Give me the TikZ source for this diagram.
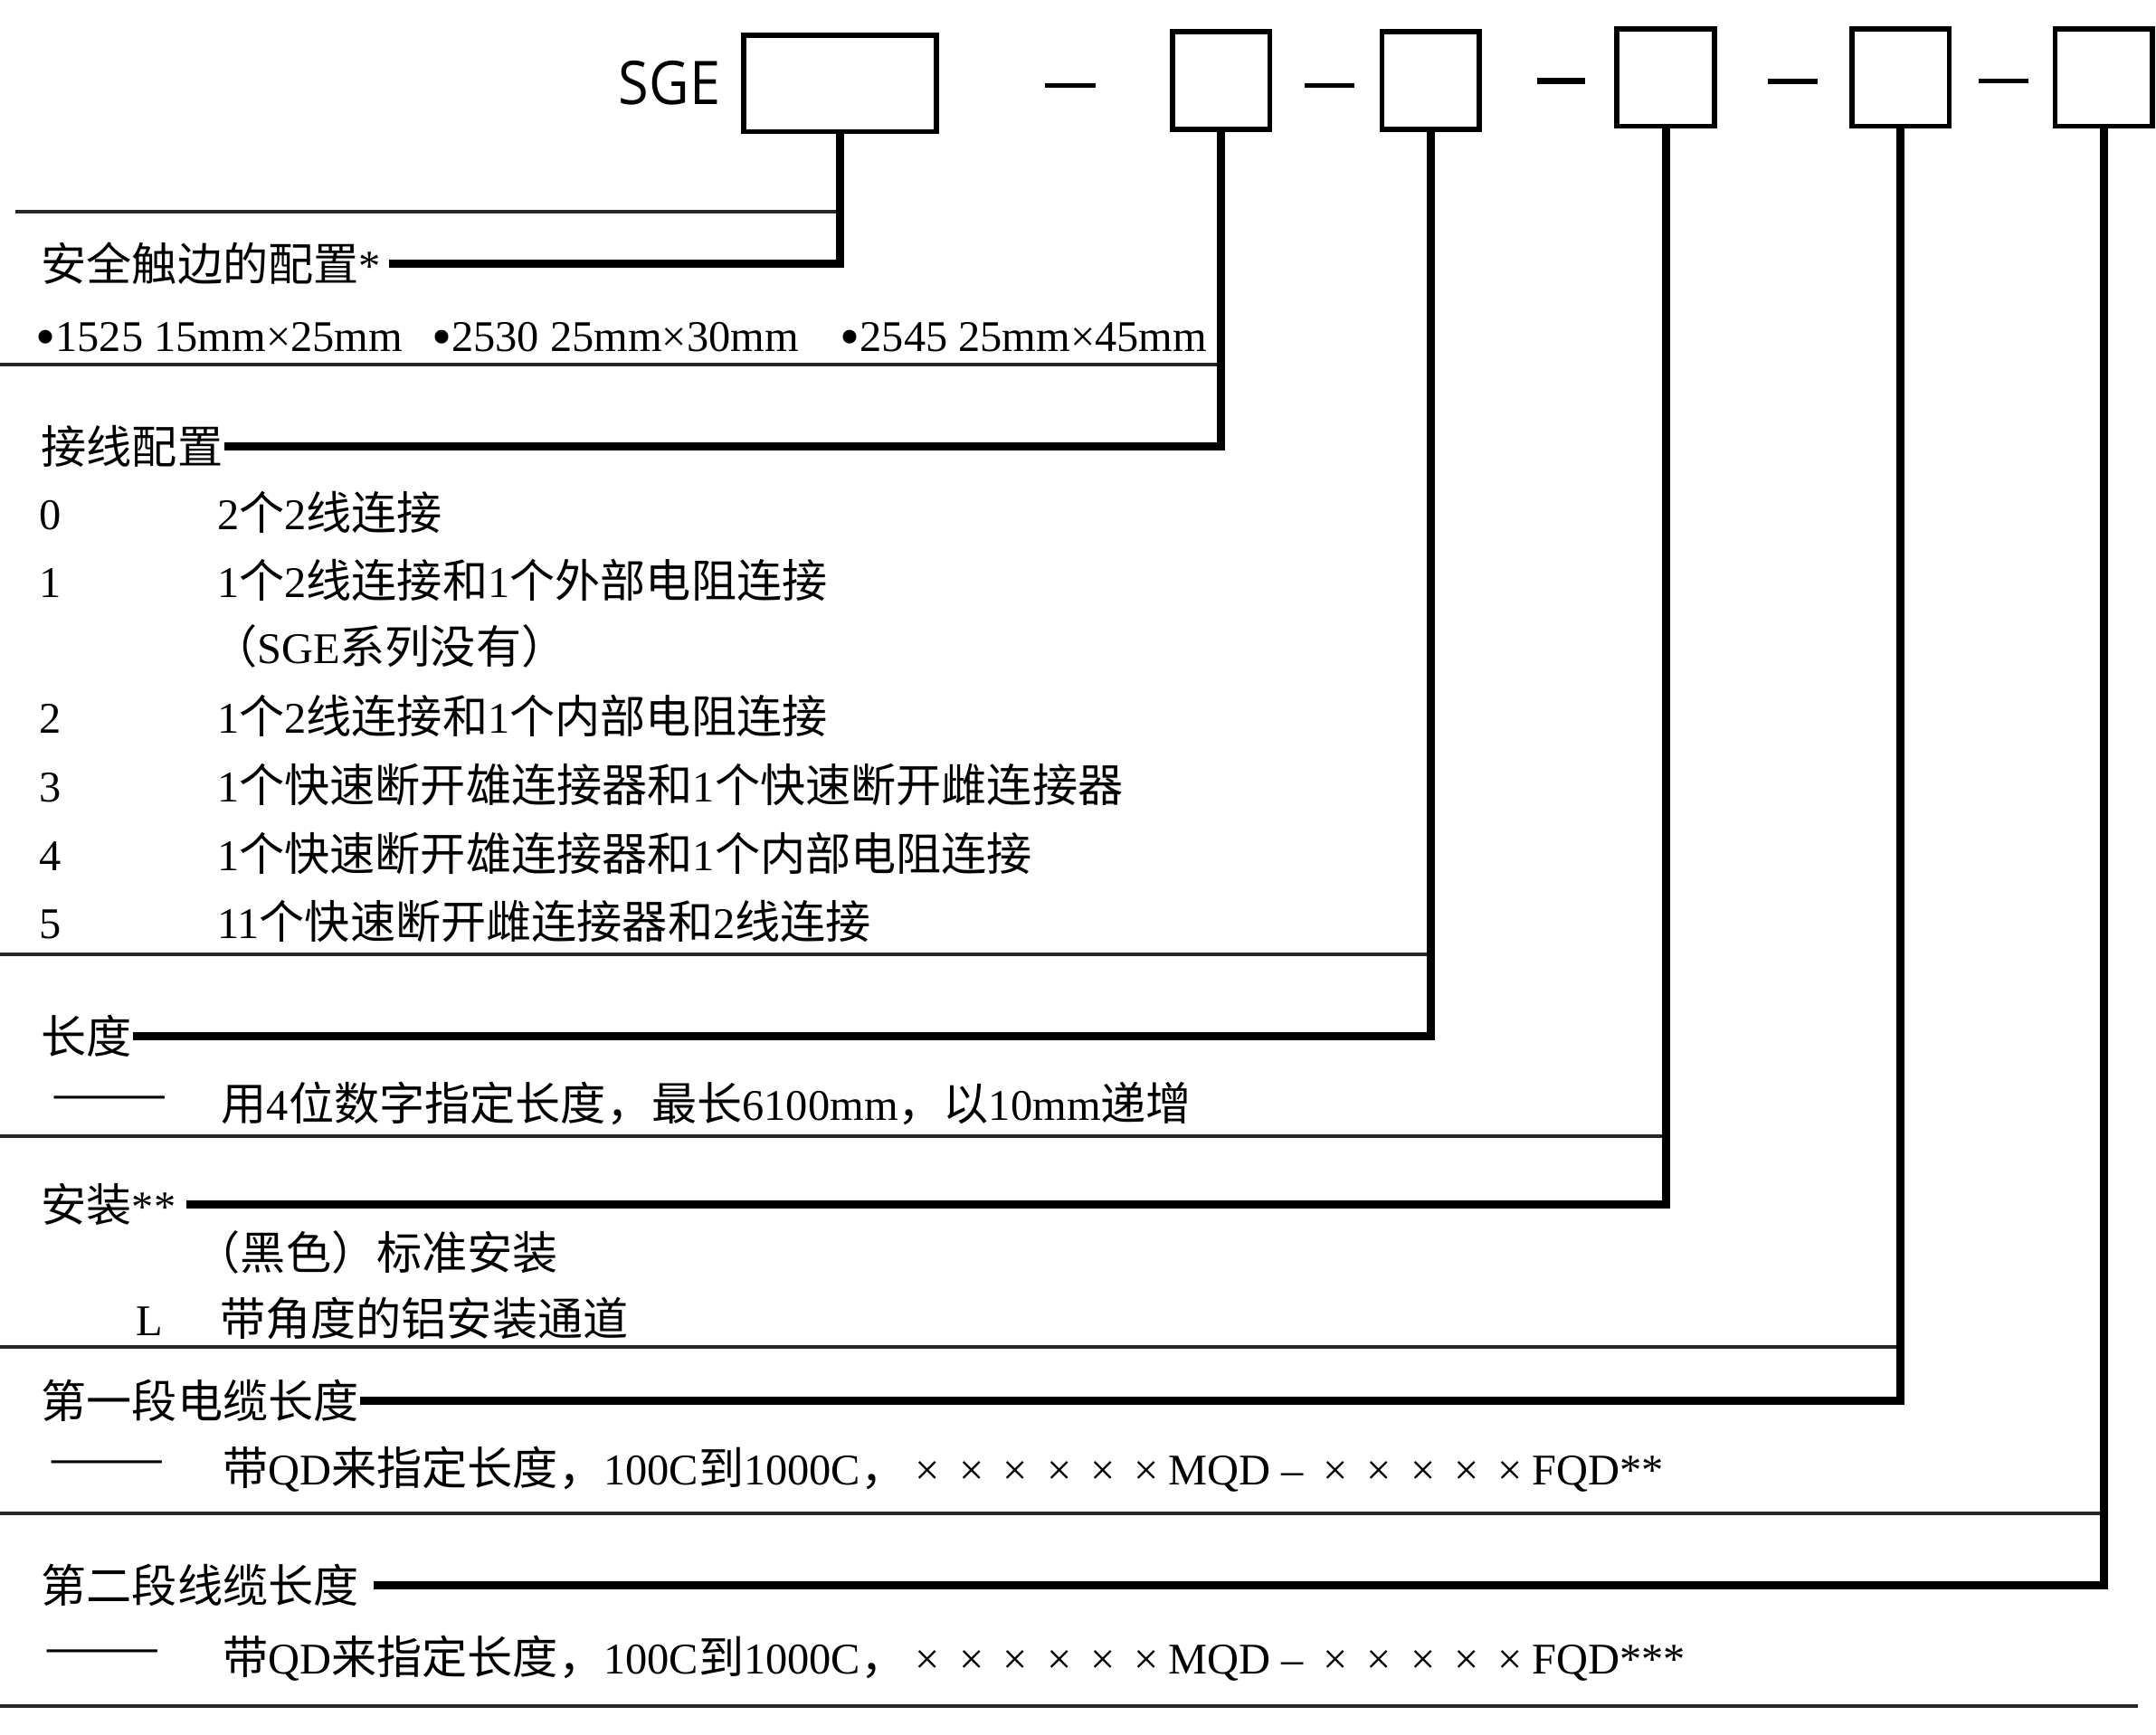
\documentclass[tikz,border=0pt]{standalone}
\usepackage{graphicx}
\usepackage{fontspec}
\setmainfont{Liberation Serif}[Scale=0.965]
\newfontfamily\cjk{Noto Sans CJK SC}
\newfontfamily\sgefont{Open Sans}
\newcommand\C[1]{{\cjk #1}}
\newcommand\xm{\makebox[1.0em]{×}}
\newcommand\mdash{\makebox[0.97em]{–}}
\newcommand\bul{\raisebox{-0.1em}{\scalebox{1.3}{•}}}
\newcommand\ldash{\scalebox{1.54}[1]{\C{——}}}
\begin{document}
\begin{tikzpicture}[x=1pt,y=-1pt,
  txt/.style={anchor=base west,inner sep=0pt,outer sep=0pt,font=\fontsize{33}{40}\selectfont},
  dashtxt/.style={anchor=west,inner sep=0pt,outer sep=0pt,font=\fontsize{33}{40}\selectfont},
  codebox/.style={draw=black,line width=3.7pt,minimum width=70.8pt,minimum height=70.8pt,inner sep=0pt,outer sep=0pt},
  conn/.style={line width=6pt},
  sepline/.style={line width=2.6pt,draw=black!85},
  bar/.style={line width=3.4pt}]
\useasboundingbox (0,0) rectangle (1568,1261.4);

% code boxes
\node[anchor=east,inner sep=0pt,font=\sgefont\fontsize{43.8}{50}\selectfont] (sge) at (524,60.6) {\scalebox{0.92}[1]{SGE}};
\node[codebox,minimum width=140.3pt,minimum height=70.2pt] (b1) at (611,60.6) {};
\node[codebox] (b2) at (888.2,58.5) {};
\node[codebox] (b3) at (1040.5,58.5) {};
\node[codebox] (b4) at (1211.4,56.3) {};
\node[codebox] (b5) at (1382.3,56.3) {};
\node[codebox] (b6) at (1530,56.3) {};

% dashes between boxes
\draw[bar] (760,62.1) -- (797,62.1);
\draw[bar] (949,62.1) -- (985,62.1);
\draw[bar,line width=4.5pt] (1118,58.8) -- (1153,58.8);
\draw[bar] (1286,59.2) -- (1322,59.2);
\draw[bar] (1439,58.8) -- (1475,58.8);

% labels and texts
\node[txt] (l1) at (30,204.4) {\C{安全触边的配置}*};
\node[txt] (p1) at (26,255.5) {\bul1525 15mm×25mm};
\node[txt] (p2) at (314,255.5) {\bul2530 25mm×30mm};
\node[txt] (p3) at (611,255.5) {\bul2545 25mm×45mm};

\node[txt] (l2) at (30,337.5) {\C{接线配置}};
\node[txt] (n0) at (28.5,385.5) {0};
\node[txt] (t0) at (158,385.5) {2\C{个}2\C{线连接}};
\node[txt] (n1) at (28.5,434.5) {1};
\node[txt] (t1) at (158,434.5) {1\C{个}2\C{线连接和}1\C{个外部电阻连接}};
\node[txt] (t1b) at (154,482.5) {\C{（}SGE\C{系列没有）}};
\node[txt] (n2) at (28.5,533.5) {2};
\node[txt] (t2) at (158,533.5) {1\C{个}2\C{线连接和}1\C{个内部电阻连接}};
\node[txt] (n3) at (28.5,583.5) {3};
\node[txt] (t3) at (158,583.5) {1\C{个快速断开雄连接器和}1\C{个快速断开雌连接器}};
\node[txt] (n4) at (28.5,633.5) {4};
\node[txt] (t4) at (158,633.5) {1\C{个快速断开雄连接器和}1\C{个内部电阻连接}};
\node[txt] (n5) at (28.5,682.5) {5};
\node[txt] (t5) at (158,682.5) {11\C{个快速断开雌连接器和}2\C{线连接}};

\node[txt] (l3) at (30,766.5) {\C{长度}};
\node[dashtxt] (d1) at (37,802.2) {\ldash};
\node[txt] (t6) at (161,815) {\C{用}4\C{位数字指定长度，最长}6100mm\C{，以}10mm\C{递增}};

\node[txt] (l4) at (30,888.5) {\C{安装}**};
\node[txt] (t7) at (142,923.5) {\C{（黑色）标准安装}};
\node[txt] (nL) at (99,971.5) {L};
\node[txt] (t8) at (160,971.5) {\C{带角度的铝安装通道}};

\node[txt] (l5) at (30,1031.5) {\C{第一段电缆长度}};
\node[dashtxt] (d2) at (35,1067.6) {\ldash};
\node[txt] (t9) at (162,1080) {\C{带}QD\C{来指定长度，}100C\C{到}1000C\C{，}\xm\xm\xm\xm\xm\xm MQD\mdash\xm\xm\xm\xm\xm FQD**};

\node[txt] (l6) at (30,1165.5) {\C{第二段线缆长度}};
\node[dashtxt] (d3) at (32,1205) {\ldash};
\node[txt] (t10) at (162,1217.5) {\C{带}QD\C{来指定长度，}100C\C{到}1000C\C{，}\xm\xm\xm\xm\xm\xm MQD\mdash\xm\xm\xm\xm\xm FQD***};

% separator lines
\coordinate (s1) at (11,154.2);
\coordinate (s2) at (0,265.3);
\coordinate (s3) at (0,694);
\coordinate (s4) at (0,826.4);
\coordinate (s5) at (0,980);
\coordinate (s6) at (0,1100.7);
\coordinate (s7a) at (0,1241);
\coordinate (s7b) at (1555,1241);
\draw[sepline] (s1) -- (s1 -| b1.south);
\draw[sepline] (s2) -- (s2 -| b2.south);
\draw[sepline] (s3) -- (s3 -| b3.south);
\draw[sepline] (s4) -- (s4 -| b4.south);
\draw[sepline] (s5) -- (s5 -| b5.south);
\draw[sepline] (s6) -- (s6 -| b6.south);
\draw[sepline] (s7a) -- (s7b);

% connectors
\draw[conn,shorten >=6pt] (b1.south) |- (l1.east);
\draw[conn,shorten >=1pt] (b2.south) |- (l2.east);
\draw[conn,shorten >=1pt] (b3.south) |- (l3.east);
\draw[conn,shorten >=8pt] (b4.south) |- (l4.east);
\draw[conn,shorten >=1pt] (b5.south) |- (l5.east);
\draw[conn,shorten >=11pt] (b6.south) |- (l6.east);
\end{tikzpicture}
\end{document}
